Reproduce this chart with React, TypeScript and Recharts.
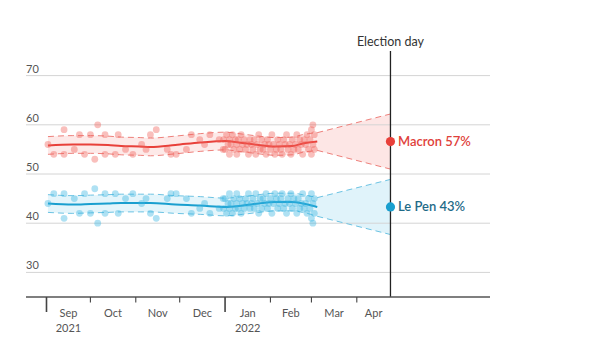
import React from 'react';
import {
  ComposedChart,
  Line,
  Area,
  Scatter,
  XAxis,
  YAxis,
  ReferenceLine,
} from 'recharts';

// Day 0 = 1 September 2021
const monthStarts = [0, 30, 61, 91, 122, 153, 181, 212];
const monthLabels = ['Sep', 'Oct', 'Nov', 'Dec', 'Jan', 'Feb', 'Mar', 'Apr'];
const yearLabels = ['2021', '', '', '', '2022', '', '', ''];
const electionDay = 235;
const yTicks = [30, 40, 50, 60, 70];

// Smoothed trend and its uncertainty band
const trendDays = [1, 18, 30, 42, 51, 64, 71, 88, 105, 122, 134, 145, 156, 168, 175, 185];
const macronTrend = [55.8, 56.0, 56.0, 55.9, 55.7, 55.6, 55.5, 55.9, 56.4, 56.7, 56.3, 55.9, 55.6, 55.7, 56.2, 56.6];
const macronUpper = [57.6, 57.8, 57.8, 57.7, 57.5, 57.4, 57.3, 57.7, 58.2, 58.5, 58.1, 57.7, 57.4, 57.5, 58.0, 58.4];
const macronLower = [54.0, 54.2, 54.2, 54.1, 53.9, 53.8, 53.7, 54.1, 54.6, 54.9, 54.5, 54.1, 53.8, 53.9, 54.4, 54.8];
const lePenTrend = [44.0, 43.8, 43.9, 44.0, 44.1, 44.1, 44.1, 43.8, 43.6, 43.3, 43.6, 44.0, 44.3, 44.3, 44.0, 43.3];
const lePenUpper = [45.8, 45.6, 45.7, 45.8, 45.9, 45.9, 45.9, 45.6, 45.4, 45.1, 45.4, 45.8, 46.1, 46.1, 45.8, 45.2];
const lePenLower = [42.2, 42.0, 42.1, 42.2, 42.3, 42.3, 42.3, 42.0, 41.8, 41.5, 41.8, 42.2, 42.5, 42.5, 42.2, 41.4];

// Projection cone to election day
const coneDays = [185, 235];
const macronConeLow = [54.8, 51.0];
const macronConeHigh = [58.4, 62.2];
const lePenConeLow = [41.4, 37.7];
const lePenConeHigh = [45.2, 48.9];

// Election-day forecast
const macronForecast = 56.6;
const lePenForecast = 43.3;
const macronLabel = 'Macron 57%';
const lePenLabel = 'Le Pen 43%';

// Individual polls
const pollDays = [
  1, 5, 12, 12, 19, 22.5, 26, 30, 33, 35, 40, 40, 47, 49, 54, 59, 65, 68, 71, 75, 82.5, 85, 88.6, 95.6, 99, 104.7, 108, 111.6, 118, 120.7,
  121, 122, 123, 124, 125, 125, 126, 127, 128, 129, 130, 130, 131, 132, 133, 134, 135, 136, 137, 138, 139, 140, 141, 142, 143, 144, 145,
  146, 147, 148, 149, 150, 151, 152, 153, 154, 155, 156, 157, 158, 159, 160, 161, 162, 163, 164, 165, 166, 167, 168, 169, 170, 171, 172,
  173, 174, 175, 176, 177, 178, 179, 180, 181, 181, 182, 182, 183, 183,
];
const macronPolls = [
  56, 54, 59, 54, 55, 58, 54, 58, 53, 60, 58, 54, 54, 58, 55, 54, 56, 55, 58, 59, 55, 54, 54, 55, 58, 57, 56, 58, 57, 55,
  57, 55, 58, 56, 57, 54, 56, 58, 55, 57, 56, 54, 57, 55, 58, 56, 57, 55, 56, 54, 57, 56, 55, 57, 54, 56, 58,
  55, 57, 55, 56, 54, 57, 56, 55, 58, 56, 54, 55, 57, 56, 55, 54, 57, 56, 58, 55, 56, 54, 57, 55, 56, 58, 55,
  57, 56, 54, 57, 56, 58, 55, 57, 59, 54, 60, 56, 58, 55,
];
const lePenPolls = [
  44, 46, 41, 46, 45, 42, 46, 42, 47, 40, 42, 46, 46, 42, 45, 46, 44, 45, 42, 41, 45, 46, 46, 45, 42, 43, 44, 42, 43, 45,
  43, 45, 42, 44, 43, 46, 44, 42, 45, 43, 44, 46, 43, 45, 42, 44, 43, 45, 44, 46, 43, 44, 45, 43, 46, 44, 42,
  45, 43, 45, 44, 46, 43, 44, 45, 42, 44, 46, 45, 43, 44, 45, 46, 43, 44, 42, 45, 44, 46, 43, 45, 44, 42, 45,
  43, 44, 46, 43, 44, 42, 45, 43, 41, 46, 40, 44, 42, 45,
];

// Colours
const RED = '#e8403a';
const RED_LABEL = '#e0413a';
const RED_DOT = '#ef5f58';
const RED_FILL = '#fde3e2';
const RED_DASH = '#ee807b';
const BLUE = '#1a9fcf';
const BLUE_LABEL = '#1f6b88';
const BLUE_DOT = '#38b5e1';
const BLUE_FILL = '#ddf2fa';
const BLUE_DASH = '#6cc3e3';

const X_MIN = -14;
const X_MAX = 303;
const PLOT_LEFT = 26;
const PLOT_RIGHT = 490;
const PX_PER_DAY = (PLOT_RIGHT - PLOT_LEFT) / (X_MAX - X_MIN);
const FONT = 'Lato, "Open Sans", sans-serif';

const macronTrendData = trendDays.map((x, i) => ({ x, y: macronTrend[i] }));
const macronUpperData = trendDays.map((x, i) => ({ x, y: macronUpper[i] }));
const macronLowerData = trendDays.map((x, i) => ({ x, y: macronLower[i] }));
const macronBandData = trendDays.map((x, i) => ({ x, lo: macronLower[i], hi: macronUpper[i] }));
const lePenTrendData = trendDays.map((x, i) => ({ x, y: lePenTrend[i] }));
const lePenUpperData = trendDays.map((x, i) => ({ x, y: lePenUpper[i] }));
const lePenLowerData = trendDays.map((x, i) => ({ x, y: lePenLower[i] }));
const lePenBandData = trendDays.map((x, i) => ({ x, lo: lePenLower[i], hi: lePenUpper[i] }));

const macronConeData = coneDays.map((x, i) => ({ x, lo: macronConeLow[i], hi: macronConeHigh[i] }));
const macronConeHiData = coneDays.map((x, i) => ({ x, y: macronConeHigh[i] }));
const macronConeLoData = coneDays.map((x, i) => ({ x, y: macronConeLow[i] }));
const lePenConeData = coneDays.map((x, i) => ({ x, lo: lePenConeLow[i], hi: lePenConeHigh[i] }));
const lePenConeHiData = coneDays.map((x, i) => ({ x, y: lePenConeHigh[i] }));
const lePenConeLoData = coneDays.map((x, i) => ({ x, y: lePenConeLow[i] }));

const macronPollData = pollDays.map((x, i) => ({ x, y: macronPolls[i] }));
const lePenPollData = pollDays.map((x, i) => ({ x, y: lePenPolls[i] }));

const macronEndData = [{ x: electionDay, y: macronForecast, label: macronLabel }];
const lePenEndData = [{ x: electionDay, y: lePenForecast, label: lePenLabel }];

const rangeKey = (d: any) => [d.lo, d.hi];

const XTick = (props: any) => {
  const { x, y, payload } = props;
  const i = monthStarts.indexOf(payload.value);
  if (i < 0) return null;
  const next = i < monthStarts.length - 1 ? monthStarts[i + 1] : electionDay;
  const labelX = x + ((next - payload.value) / 2) * PX_PER_DAY;
  const major = yearLabels[i] !== '';
  return (
    <g>
      <line x1={x} x2={x} y1={y} y2={y + (major ? 15 : 5.5)} stroke="#444" strokeWidth={major ? 1.6 : 1.1} />
      <text x={labelX} y={y + 19.5} textAnchor="middle" fontSize={11} fill="#555" fontFamily={FONT}>
        {monthLabels[i]}
      </text>
      {major && (
        <text x={labelX} y={y + 35} textAnchor="middle" fontSize={11} fill="#555" fontFamily={FONT}>
          {yearLabels[i]}
        </text>
      )}
    </g>
  );
};

const GridLabel = (props: any) => {
  const { viewBox, value } = props;
  return (
    <text x={viewBox.x} y={viewBox.y - 3} textAnchor="start" fontSize={11} fill="#555" fontFamily={FONT}>
      {value}
    </text>
  );
};

const pollDot = (fill: string) => (p: any) => (
  <circle cx={p.cx} cy={p.cy} r={3.4} fill={fill} fillOpacity={0.4} stroke="none" />
);

const endMarker = (fill: string, textFill: string) => (p: any) => (
  <g>
    <circle cx={p.cx} cy={p.cy} r={4.6} fill={fill} />
    <text x={p.cx + 7.5} y={p.cy + 4.5} fontSize={13} fontWeight={600} fill={textFill} fontFamily={FONT}>
      {p.payload.label}
    </text>
  </g>
);

export default function App() {
  return (
    <div style={{ position: 'absolute', left: 0, top: 0, width: 606, height: 362, background: '#fff' }}>
      <ComposedChart width={606} height={362} margin={{ top: 51, right: 606 - PLOT_RIGHT, bottom: 35, left: PLOT_LEFT }}>
        <XAxis
          dataKey="x"
          type="number"
          domain={[X_MIN, X_MAX]}
          allowDataOverflow
          ticks={monthStarts}
          tick={<XTick />}
          tickLine={false}
          tickSize={0}
          tickMargin={0}
          interval={0}
          height={30}
          axisLine={{ stroke: '#555', strokeWidth: 1.5 }}
        />
        <YAxis dataKey="y" type="number" domain={[25, 75]} allowDataOverflow width={0} hide />

        {yTicks.map((v) => (
          <ReferenceLine
            key={`g${v}`}
            y={v}
            stroke="#d4d4d4"
            strokeWidth={1}
            label={<GridLabel value={v} />}
          />
        ))}

        <Area data={macronBandData} dataKey={rangeKey} stroke="none" fill={RED_FILL} fillOpacity={0.8} isAnimationActive={false} />
        <Area data={lePenBandData} dataKey={rangeKey} stroke="none" fill={BLUE_FILL} fillOpacity={0.8} isAnimationActive={false} />
        <Area data={macronConeData} dataKey={rangeKey} stroke="none" fill={RED_FILL} fillOpacity={0.9} isAnimationActive={false} />
        <Area data={lePenConeData} dataKey={rangeKey} stroke="none" fill={BLUE_FILL} fillOpacity={0.9} isAnimationActive={false} />

        <Line data={macronUpperData} dataKey="y" type="monotone" stroke={RED_DASH} strokeWidth={1} strokeDasharray="6 4" dot={false} isAnimationActive={false} />
        <Line data={macronLowerData} dataKey="y" type="monotone" stroke={RED_DASH} strokeWidth={1} strokeDasharray="6 4" dot={false} isAnimationActive={false} />
        <Line data={lePenUpperData} dataKey="y" type="monotone" stroke={BLUE_DASH} strokeWidth={1} strokeDasharray="6 4" dot={false} isAnimationActive={false} />
        <Line data={lePenLowerData} dataKey="y" type="monotone" stroke={BLUE_DASH} strokeWidth={1} strokeDasharray="6 4" dot={false} isAnimationActive={false} />
        <Line data={macronConeHiData} dataKey="y" stroke={RED_DASH} strokeWidth={1} strokeDasharray="6 4" dot={false} isAnimationActive={false} />
        <Line data={macronConeLoData} dataKey="y" stroke={RED_DASH} strokeWidth={1} strokeDasharray="6 4" dot={false} isAnimationActive={false} />
        <Line data={lePenConeHiData} dataKey="y" stroke={BLUE_DASH} strokeWidth={1} strokeDasharray="6 4" dot={false} isAnimationActive={false} />
        <Line data={lePenConeLoData} dataKey="y" stroke={BLUE_DASH} strokeWidth={1} strokeDasharray="6 4" dot={false} isAnimationActive={false} />

        <Scatter data={macronPollData} dataKey="y" shape={pollDot(RED_DOT)} isAnimationActive={false} />
        <Scatter data={lePenPollData} dataKey="y" shape={pollDot(BLUE_DOT)} isAnimationActive={false} />

        <Line data={macronTrendData} dataKey="y" type="monotone" stroke={RED} strokeWidth={2} dot={false} isAnimationActive={false} />
        <Line data={lePenTrendData} dataKey="y" type="monotone" stroke={BLUE} strokeWidth={2} dot={false} isAnimationActive={false} />

        <ReferenceLine
          x={electionDay}
          stroke="#222"
          strokeWidth={1.3}
          label={{ value: 'Election day', position: 'top', fill: '#333', fontSize: 12.5, fontFamily: FONT, offset: 5 }}
        />

        <Scatter data={macronEndData} dataKey="y" shape={endMarker(RED, RED_LABEL)} isAnimationActive={false} />
        <Scatter data={lePenEndData} dataKey="y" shape={endMarker(BLUE, BLUE_LABEL)} isAnimationActive={false} />
      </ComposedChart>
    </div>
  );
}
